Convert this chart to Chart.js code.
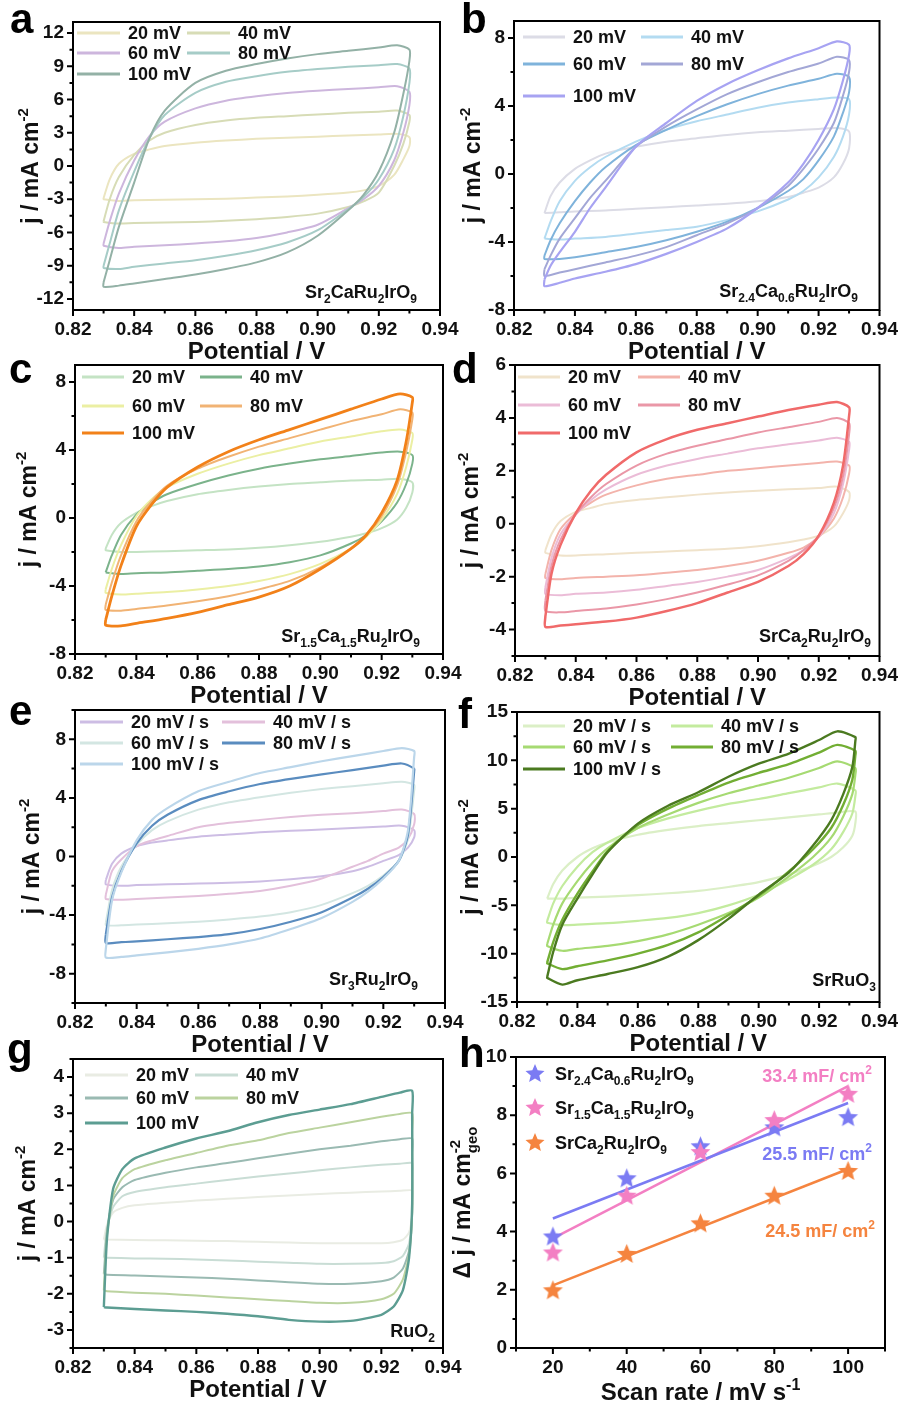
<!DOCTYPE html>
<html>
<head>
<meta charset="utf-8">
<script src="https://cdn.jsdelivr.net/npm/chart.js@4.4.1/dist/chart.umd.min.js"></script>
<style>
  body { margin: 0; background: #fff; }
  #wrap { position: relative; width: 906px; height: 1407px; overflow: hidden; }
  #wrap canvas { position: absolute; left: 0; top: 0; }
</style>
</head>
<body>
<div id="wrap">
  <canvas id="ca" width="906" height="1407"></canvas>
  <canvas id="cb" width="906" height="1407"></canvas>
  <canvas id="cc" width="906" height="1407"></canvas>
  <canvas id="cd" width="906" height="1407"></canvas>
  <canvas id="ce" width="906" height="1407"></canvas>
  <canvas id="cf" width="906" height="1407"></canvas>
  <canvas id="cg" width="906" height="1407"></canvas>
  <canvas id="ch" width="906" height="1407"></canvas>
</div>
<script>
/* ---------- data ---------- */

// potential grids (V): anodic sweep, then cathodic sweep back
const fwdE = [0.830, 0.832, 0.835, 0.840, 0.845, 0.850, 0.860, 0.870, 0.880, 0.890, 0.900, 0.910, 0.920, 0.926, 0.930];
const revE = [0.930, 0.928, 0.925, 0.920, 0.915, 0.910, 0.900, 0.890, 0.880, 0.870, 0.860, 0.850, 0.840, 0.835, 0.830];
const fwdE_f = [0.830, 0.832, 0.835, 0.840, 0.845, 0.850, 0.860, 0.870, 0.880, 0.890, 0.900, 0.910, 0.920, 0.926, 0.932];
const revE_f = [0.932, 0.931, 0.928, 0.924, 0.918, 0.910, 0.900, 0.890, 0.880, 0.870, 0.860, 0.850, 0.840, 0.835, 0.830];
const fwdE_g = [0.830, 0.831, 0.833, 0.836, 0.840, 0.850, 0.860, 0.870, 0.880, 0.890, 0.900, 0.910, 0.920, 0.926, 0.930];
const revE_g = [0.930, 0.930, 0.929, 0.927, 0.924, 0.920, 0.910, 0.900, 0.890, 0.880, 0.870, 0.860, 0.850, 0.840, 0.831];

const rateMV = ['20 mV', '40 mV', '60 mV', '80 mV', '100 mV'];
const rateMVs = ['20 mV / s', '40 mV / s', '60 mV / s', '80 mV / s', '100 mV / s'];

// current density (mA cm-2), one row per scan rate 20..100 mV/s
const aUp = [
  [-2.9, -1.2, 0.2, 1.1, 1.5, 1.8, 2.1, 2.3, 2.45, 2.55, 2.65, 2.75, 2.85, 2.9, 2.6],
  [-5.0, -3.0, -1.0, 1.0, 2.3, 3.0, 3.7, 4.1, 4.35, 4.5, 4.65, 4.8, 4.9, 5.0, 4.6],
  [-7.0, -5.0, -2.5, 0.5, 2.7, 4.0, 5.2, 5.9, 6.3, 6.6, 6.8, 6.95, 7.1, 7.2, 6.7],
  [-9.0, -7.0, -4.0, -0.5, 2.5, 4.6, 6.6, 7.6, 8.1, 8.5, 8.75, 8.95, 9.1, 9.2, 8.8],
  [-10.5, -8.5, -5.5, -1.5, 2.5, 5.0, 7.5, 8.6, 9.2, 9.7, 10.1, 10.4, 10.7, 10.9, 10.5]
];
const aDn = [
  [1.8, 0.6, -0.8, -1.8, -2.2, -2.4, -2.6, -2.75, -2.85, -2.95, -3.0, -3.05, -3.1, -3.15, -3.0],
  [4.0, 2.0, 0.0, -2.4, -3.2, -3.7, -4.3, -4.6, -4.8, -4.95, -5.05, -5.1, -5.15, -5.2, -5.05],
  [5.5, 3.0, 0.5, -1.8, -3.0, -3.8, -5.3, -6.0, -6.5, -6.8, -7.0, -7.15, -7.3, -7.4, -7.2],
  [7.5, 4.5, 1.5, -1.2, -2.8, -3.9, -5.8, -6.9, -7.6, -8.1, -8.5, -8.8, -9.1, -9.3, -9.2],
  [9.5, 6.5, 3.0, -0.5, -2.6, -4.0, -6.3, -7.8, -8.7, -9.3, -9.8, -10.2, -10.6, -10.8, -10.9]
];

const bUp = [
  [-2.3, -1.3, -0.5, 0.3, 0.8, 1.2, 1.6, 1.9, 2.1, 2.3, 2.45, 2.55, 2.65, 2.7, 2.5],
  [-3.8, -2.8, -1.6, -0.4, 0.4, 1.0, 1.9, 2.6, 3.1, 3.5, 3.9, 4.2, 4.4, 4.5, 4.4],
  [-4.8, -3.9, -2.9, -1.6, -0.5, 0.4, 1.7, 2.6, 3.4, 4.1, 4.7, 5.2, 5.6, 5.9, 5.7],
  [-5.6, -4.8, -3.8, -2.6, -1.4, -0.4, 1.6, 2.8, 3.8, 4.7, 5.4, 6.0, 6.5, 6.9, 6.7],
  [-6.2, -5.4, -4.6, -3.4, -2.0, -0.8, 1.6, 3.0, 4.3, 5.3, 6.1, 6.8, 7.4, 7.8, 7.6]
];
const bDn = [
  [1.5, 0.6, -0.2, -0.8, -1.1, -1.35, -1.6, -1.75, -1.85, -1.95, -2.05, -2.15, -2.2, -2.25, -2.3],
  [3.5, 2.2, 1.0, -0.2, -1.0, -1.5, -2.2, -2.7, -3.1, -3.3, -3.5, -3.7, -3.8, -3.85, -3.8],
  [4.8, 3.6, 2.2, 0.8, -0.3, -1.0, -2.0, -2.8, -3.4, -3.9, -4.3, -4.6, -4.9, -5.0, -5.0],
  [6.0, 4.6, 3.0, 1.5, 0.3, -0.7, -2.0, -2.9, -3.6, -4.3, -4.8, -5.2, -5.6, -5.8, -6.0],
  [7.0, 5.5, 3.8, 2.0, 0.6, -0.5, -2.0, -3.2, -4.0, -4.7, -5.3, -5.75, -6.15, -6.4, -6.6]
];

const cUp = [
  [-1.8, -1.0, -0.3, 0.3, 0.7, 1.0, 1.4, 1.65, 1.85, 2.0, 2.1, 2.2, 2.25, 2.3, 2.1],
  [-3.2, -2.2, -1.0, 0.2, 0.9, 1.4, 2.0, 2.5, 2.9, 3.2, 3.45, 3.65, 3.85, 3.9, 3.7],
  [-4.2, -3.0, -1.6, 0.1, 1.1, 1.8, 2.6, 3.2, 3.7, 4.1, 4.5, 4.8, 5.1, 5.2, 5.0],
  [-5.1, -3.8, -2.2, -0.2, 1.0, 1.9, 2.9, 3.6, 4.2, 4.7, 5.2, 5.7, 6.1, 6.4, 6.2],
  [-6.0, -4.6, -2.8, -0.5, 0.8, 1.8, 3.0, 3.9, 4.6, 5.2, 5.8, 6.4, 7.0, 7.3, 7.1]
];
const cDn = [
  [1.5, 0.6, -0.1, -0.6, -0.9, -1.1, -1.4, -1.6, -1.75, -1.85, -1.9, -1.95, -2.0, -2.0, -1.9],
  [3.2, 2.0, 0.9, -0.2, -1.0, -1.5, -2.2, -2.6, -2.85, -3.0, -3.1, -3.2, -3.25, -3.3, -3.2],
  [4.6, 3.0, 1.4, -0.1, -1.1, -1.8, -2.7, -3.3, -3.7, -4.0, -4.2, -4.35, -4.45, -4.5, -4.4],
  [5.8, 3.9, 1.9, 0.1, -1.0, -1.8, -2.9, -3.7, -4.2, -4.6, -4.9, -5.15, -5.35, -5.45, -5.4],
  [6.8, 4.5, 2.2, 0.3, -1.0, -1.8, -3.0, -4.0, -4.65, -5.1, -5.55, -5.9, -6.2, -6.35, -6.3]
];

const dUp = [
  [-1.0, -0.4, 0.1, 0.45, 0.6, 0.75, 0.9, 1.0, 1.1, 1.18, 1.25, 1.3, 1.35, 1.4, 1.2],
  [-1.9, -1.0, -0.2, 0.4, 0.8, 1.1, 1.45, 1.7, 1.85, 2.0, 2.1, 2.2, 2.3, 2.35, 2.2],
  [-2.4, -1.3, -0.4, 0.35, 0.9, 1.3, 1.85, 2.2, 2.45, 2.65, 2.85, 3.0, 3.15, 3.25, 3.1],
  [-2.9, -1.6, -0.6, 0.35, 1.0, 1.5, 2.2, 2.65, 2.95, 3.2, 3.45, 3.65, 3.85, 4.0, 3.8],
  [-3.5, -1.9, -0.8, 0.4, 1.25, 1.85, 2.7, 3.2, 3.55, 3.8, 4.05, 4.3, 4.5, 4.6, 4.4]
];
const dDn = [
  [0.9, 0.4, -0.1, -0.45, -0.6, -0.7, -0.85, -0.95, -1.0, -1.05, -1.1, -1.15, -1.2, -1.2, -1.1],
  [1.9, 1.0, 0.2, -0.5, -0.9, -1.1, -1.4, -1.6, -1.75, -1.85, -1.95, -2.0, -2.05, -2.1, -2.05],
  [2.8, 1.5, 0.4, -0.5, -1.0, -1.3, -1.75, -2.0, -2.2, -2.35, -2.5, -2.6, -2.65, -2.7, -2.65],
  [3.4, 1.8, 0.6, -0.45, -1.0, -1.4, -1.95, -2.3, -2.6, -2.85, -3.05, -3.2, -3.3, -3.35, -3.3],
  [4.1, 2.2, 0.8, -0.45, -1.15, -1.6, -2.2, -2.6, -3.0, -3.3, -3.55, -3.7, -3.8, -3.85, -3.9]
];

const eUp = [
  [-1.6, -0.5, 0.2, 0.7, 0.95, 1.1, 1.35, 1.5, 1.65, 1.75, 1.85, 1.95, 2.05, 2.1, 1.8],
  [-2.6, -1.0, -0.2, 0.7, 1.1, 1.4, 2.0, 2.3, 2.5, 2.7, 2.85, 2.95, 3.1, 3.2, 2.9],
  [-4.5, -2.3, -0.7, 0.8, 1.8, 2.4, 3.2, 3.7, 4.05, 4.35, 4.6, 4.8, 5.0, 5.1, 4.9],
  [-5.3, -2.8, -1.0, 0.9, 2.1, 2.85, 3.85, 4.45, 4.95, 5.3, 5.6, 5.9, 6.2, 6.35, 6.0],
  [-6.3, -3.0, -1.1, 1.1, 2.5, 3.3, 4.45, 5.1, 5.7, 6.1, 6.5, 6.85, 7.2, 7.4, 7.2]
];
const eDn = [
  [1.3, 0.6, 0.1, -0.3, -0.7, -1.0, -1.35, -1.55, -1.7, -1.8, -1.85, -1.9, -1.95, -2.0, -1.9],
  [2.2, 1.2, 0.6, 0.2, -0.3, -0.7, -1.5, -2.0, -2.35, -2.55, -2.7, -2.8, -2.9, -2.95, -2.9],
  [4.5, 1.2, -0.3, -1.3, -2.0, -2.5, -3.3, -3.8, -4.1, -4.3, -4.45, -4.55, -4.65, -4.7, -4.7],
  [5.8, 1.5, -0.3, -1.4, -2.2, -2.8, -3.8, -4.45, -4.95, -5.3, -5.5, -5.65, -5.8, -5.85, -5.9],
  [6.8, 1.8, -0.3, -1.5, -2.4, -3.1, -4.2, -4.95, -5.6, -6.0, -6.3, -6.55, -6.75, -6.85, -6.9]
];

const fUp = [
  [-4.3, -2.8, -1.4, 0.0, 0.9, 1.5, 2.3, 2.8, 3.2, 3.5, 3.8, 4.1, 4.4, 4.6, 4.7],
  [-6.6, -4.8, -3.0, -1.0, 0.5, 1.5, 3.0, 4.0, 4.8, 5.5, 6.0, 6.6, 7.2, 7.6, 6.9],
  [-9.0, -7.0, -4.8, -2.5, -0.6, 0.9, 3.0, 4.4, 5.6, 6.6, 7.4, 8.2, 9.2, 9.9, 9.2],
  [-10.9, -8.8, -6.5, -3.8, -1.5, 0.6, 3.3, 5.0, 6.4, 7.7, 8.7, 9.6, 10.8, 11.6, 11.0],
  [-12.4, -9.8, -7.0, -4.3, -1.8, 0.5, 3.45, 5.3, 6.7, 8.3, 9.65, 10.7, 12.1, 13.0, 12.4]
];
const fDn = [
  [3.5, 2.2, 1.0, 0.0, -0.9, -1.8, -2.6, -3.1, -3.5, -3.75, -3.95, -4.1, -4.2, -4.3, -4.3],
  [6.3, 4.5, 2.6, 0.8, -0.8, -2.3, -3.9, -5.0, -5.8, -6.3, -6.6, -6.85, -7.0, -7.05, -6.8],
  [8.5, 6.5, 4.2, 2.0, 0.0, -2.0, -4.2, -5.8, -7.0, -8.0, -8.7, -9.2, -9.5, -9.7, -9.2],
  [10.5, 8.0, 5.4, 3.0, 0.8, -1.5, -4.0, -6.0, -7.8, -9.1, -10.0, -10.7, -11.3, -11.6, -11.0],
  [12.0, 9.3, 6.5, 3.8, 1.2, -1.6, -3.9, -6.4, -8.6, -10.3, -11.4, -12.1, -12.75, -13.2, -12.5]
];

const gUp = [
  [-0.5, -0.1, 0.25, 0.38, 0.45, 0.52, 0.58, 0.63, 0.68, 0.72, 0.76, 0.8, 0.83, 0.85, 0.86],
  [-1.0, -0.2, 0.4, 0.7, 0.82, 0.95, 1.05, 1.15, 1.25, 1.33, 1.42, 1.5, 1.57, 1.6, 1.62],
  [-1.45, -0.3, 0.6, 0.95, 1.15, 1.35, 1.5, 1.62, 1.75, 1.88, 2.0, 2.1, 2.22, 2.28, 2.3],
  [-1.9, -0.4, 0.7, 1.2, 1.45, 1.7, 1.9, 2.1, 2.25, 2.45, 2.6, 2.75, 2.9, 2.98, 3.0],
  [-2.37, -0.5, 0.9, 1.45, 1.75, 2.05, 2.3, 2.5, 2.75, 2.95, 3.1, 3.25, 3.45, 3.57, 3.62]
];
const gDn = [
  [0.6, 0.2, -0.3, -0.5, -0.57, -0.6, -0.6, -0.6, -0.58, -0.56, -0.54, -0.53, -0.52, -0.51, -0.5],
  [1.3, 0.2, -0.6, -0.95, -1.1, -1.15, -1.17, -1.17, -1.14, -1.11, -1.08, -1.05, -1.03, -1.02, -1.0],
  [1.9, 0.2, -0.8, -1.3, -1.55, -1.65, -1.72, -1.72, -1.68, -1.63, -1.58, -1.55, -1.52, -1.49, -1.47],
  [2.5, 0.3, -0.9, -1.6, -2.0, -2.15, -2.25, -2.25, -2.2, -2.15, -2.1, -2.05, -2.0, -1.97, -1.93],
  [3.0, 0.5, -1.0, -1.9, -2.35, -2.58, -2.75, -2.77, -2.72, -2.62, -2.55, -2.5, -2.46, -2.42, -2.38]
];

// panel h: delta j vs scan rate
const hRates = [20, 40, 60, 80, 100];
const hSr24 = [3.85, 5.85, 6.95, 7.6, 7.95];
const hSr15 = [3.3, 5.25, 6.75, 7.85, 8.75];
const hSr1 = [2.0, 3.25, 4.3, 5.25, 6.1];
const fitRates = [20, 100];
const fitSr24 = [4.45, 8.42];
const fitSr15 = [3.77, 9.0];
const fitSr1 = [2.15, 6.15];
const hNames = ['Sr_{2.4}Ca_{0.6}Ru_{2}IrO_{9}', 'Sr_{1.5}Ca_{1.5}Ru_{2}IrO_{9}', 'SrCa_{2}Ru_{2}IrO_{9}'];
const hSlopes = ['25.5 mF/ cm^{2}', '33.4 mF/ cm^{2}', '24.5 mF/ cm^{2}'];

// tick labels
const xTicksCV = [0.82, 0.84, 0.86, 0.88, 0.90, 0.92, 0.94];
const aYTicks = [-12, -9, -6, -3, 0, 3, 6, 9, 12];
const bYTicks = [-8, -4, 0, 4, 8];
const cYTicks = [-8, -4, 0, 4, 8];
const dYTicks = [-4, -2, 0, 2, 4, 6];
const eYTicks = [-8, -4, 0, 4, 8];
const fYTicks = [-15, -10, -5, 0, 5, 10, 15];
const gYTicks = [-3, -2, -1, 0, 1, 2, 3, 4];
const hYTicks = [0, 2, 4, 6, 8, 10];
const hXTicks = [20, 40, 60, 80, 100];

/* ---------- helpers ---------- */

const FONT = '"Liberation Sans", Arial, sans-serif';
const W = 906, H = 1407;

function loop(fe, re, up, dn) {
  const pts = fe.map((x, i) => ({x: x, y: up[i]}));
  re.forEach((x, i) => pts.push({x: x, y: dn[i]}));
  pts.push(pts[0]);
  return pts;
}

function minors(ticks, min, max) {
  const out = [];
  const step = ticks[1] - ticks[0];
  for (let i = 0; i < ticks.length - 1; i++) out.push((ticks[i] + ticks[i + 1]) / 2);
  if (ticks[0] - step / 2 >= min - 1e-9) out.push(ticks[0] - step / 2);
  if (ticks[ticks.length - 1] + step / 2 <= max + 1e-9) out.push(ticks[ticks.length - 1] + step / 2);
  return out;
}

// "Sr_{2}Ca" -> subscripts, "cm^{-2}" -> superscripts
function richLayout(ctx, str, size) {
  const parts = [];
  const re = /([_^])\{([^}]*)\}/g;
  let last = 0, m;
  while ((m = re.exec(str)) !== null) {
    if (m.index > last) parts.push({t: str.slice(last, m.index), k: 'n'});
    parts.push({t: m[2], k: m[1]});
    last = re.lastIndex;
  }
  if (last < str.length) parts.push({t: str.slice(last), k: 'n'});
  let w = 0, sub = null;
  for (const p of parts) {
    p.fs = p.k === 'n' ? size : Math.round(size * 0.65);
    ctx.font = 'bold ' + p.fs + 'px ' + FONT;
    p.w = ctx.measureText(p.t).width;
    if (p.k === '^' && sub) {
      p.x = sub.x;
      w = Math.max(w, p.x + p.w);
      sub = null;
      continue;
    }
    p.x = w;
    w += p.w;
    sub = p.k === '_' ? p : null;
  }
  return {parts: parts, w: w};
}

function drawRich(ctx, str, x, y, size, color, align) {
  const lay = richLayout(ctx, str, size);
  const x0 = align === 'center' ? x - lay.w / 2 : align === 'right' ? x - lay.w : x;
  ctx.fillStyle = color;
  ctx.textAlign = 'left';
  ctx.textBaseline = 'alphabetic';
  for (const p of lay.parts) {
    ctx.font = 'bold ' + p.fs + 'px ' + FONT;
    const dy = p.k === '_' ? size * 0.3 : p.k === '^' ? -size * 0.42 : 0;
    ctx.fillText(p.t, x0 + p.x, y + dy);
  }
}

function starImage(color, r) {
  const c = document.createElement('canvas');
  c.width = c.height = Math.ceil(2 * r + 2);
  const g = c.getContext('2d');
  const cx = c.width / 2, cy = c.height / 2 + r * 0.1;
  g.beginPath();
  for (let i = 0; i < 10; i++) {
    const rr = i % 2 ? r * 0.45 : r;
    const a = -Math.PI / 2 + i * Math.PI / 5;
    g.lineTo(cx + rr * Math.cos(a), cy + rr * Math.sin(a));
  }
  g.closePath();
  g.fillStyle = color;
  g.fill();
  return c;
}

/* ---------- plugin: frame, ticks, legend, titles ---------- */

const decor = {
  id: 'decor',
  afterDraw(chart, args, o) {
    const ctx = chart.ctx, ca = chart.chartArea;
    const xs = chart.scales.x, ys = chart.scales.y;
    ctx.save();
    ctx.strokeStyle = '#000';
    ctx.lineWidth = 2;
    ctx.strokeRect(ca.left, ca.top, ca.right - ca.left, ca.bottom - ca.top);
    ctx.beginPath();
    o.xMajor.forEach(v => { const p = xs.getPixelForValue(v); ctx.moveTo(p, ca.bottom); ctx.lineTo(p, ca.bottom + 6); });
    o.xMinor.forEach(v => { const p = xs.getPixelForValue(v); ctx.moveTo(p, ca.bottom); ctx.lineTo(p, ca.bottom + 3.5); });
    o.yMajor.forEach(v => { const p = ys.getPixelForValue(v); ctx.moveTo(ca.left, p); ctx.lineTo(ca.left - 6, p); });
    o.yMinor.forEach(v => { const p = ys.getPixelForValue(v); ctx.moveTo(ca.left, p); ctx.lineTo(ca.left - 3.5, p); });
    ctx.stroke();

    // legend
    const lg = o.legend;
    lg.items.forEach((it, i) => {
      const row = lg.vertical ? i : Math.floor(i / 2);
      const col = lg.vertical ? 0 : i % 2;
      const x = col ? lg.c2 : lg.c1, y = lg.rows[row];
      if (it.star) {
        ctx.drawImage(it.star, x - it.star.width / 2, y - it.star.height / 2);
        drawRich(ctx, it.text, x + lg.gap, y + 7, lg.size, '#111', 'left');
        return;
      }
      ctx.strokeStyle = it.color;
      ctx.lineWidth = 3;
      ctx.beginPath();
      ctx.moveTo(x, y);
      ctx.lineTo(x + lg.len, y);
      ctx.stroke();
      drawRich(ctx, it.text, x + lg.len + 8, y + 6, lg.size, '#111', 'left');
    });

    // notes (compound name, slopes)
    (o.notes || []).forEach(n => drawRich(ctx, n.text, n.x, n.y, n.size, n.color || '#111', n.align || 'right'));

    // axis titles
    drawRich(ctx, o.xTitle, (ca.left + ca.right) / 2, ca.bottom + o.xTitleOff, 24, '#111', 'center');
    ctx.save();
    ctx.translate(ca.left - o.yTitleOff, (ca.top + ca.bottom) / 2);
    ctx.rotate(-Math.PI / 2);
    drawRich(ctx, o.yTitle, 0, 0, 23, '#111', 'center');
    ctx.restore();

    // panel letter
    ctx.font = 'bold 42px ' + FONT;
    ctx.fillStyle = '#000';
    ctx.textAlign = 'left';
    ctx.textBaseline = 'alphabetic';
    ctx.fillText(o.letter, o.letterPos[0], o.letterPos[1]);
    ctx.restore();
  }
};
Chart.register(decor);

function makeChart(id, box, xr, xTicks, xFmt, yr, yTicks, datasets, deco) {
  const tickFont = {family: FONT, size: 19, weight: 'bold'};
  deco.xMajor = xTicks;
  deco.xMinor = minors(xTicks, xr[0], xr[1]);
  deco.yMajor = yTicks;
  deco.yMinor = minors(yTicks, yr[0], yr[1]);
  return new Chart(document.getElementById(id), {
    type: 'scatter',
    data: {datasets: datasets},
    options: {
      responsive: false,
      devicePixelRatio: 1,
      animation: false,
      events: [],
      layout: {padding: {left: box.L - 60, top: box.T, right: W - box.R, bottom: H - box.B - 40}},
      plugins: {legend: {display: false}, tooltip: {enabled: false}, decor: deco},
      scales: {
        x: {
          type: 'linear', min: xr[0], max: xr[1],
          afterBuildTicks: s => { s.ticks = xTicks.map(v => ({value: v})); },
          afterFit: s => { s.height = 40; },
          grid: {display: false, drawTicks: false},
          border: {display: false},
          ticks: {padding: 8, color: '#111', font: tickFont, autoSkip: false, maxRotation: 0, callback: xFmt}
        },
        y: {
          type: 'linear', min: yr[0], max: yr[1],
          afterBuildTicks: s => { s.ticks = yTicks.map(v => ({value: v})); },
          afterFit: s => { s.width = 60; },
          grid: {display: false, drawTicks: false},
          border: {display: false},
          ticks: {padding: 9, color: '#111', font: tickFont, autoSkip: false, callback: v => String(v)}
        }
      }
    }
  });
}

/* ---------- CV panels a-g ---------- */

const cvPanels = [
  {id: 'ca', letter: 'a', letterPos: [10, 33], box: {L: 73, T: 22, R: 440, B: 310}, yr: [-13, 13], yTicks: aYTicks,
   fe: fwdE, re: revE, up: aUp, dn: aDn, tension: 0.25, labels: rateMV,
   colors: ['#ebe5c0', '#d7dcb6', '#cdb6dd', '#a6ccc7', '#93b1a6'], widths: [2, 2, 2, 2, 2],
   legend: {c1: 77, c2: 187, len: 43, rows: [33, 53, 74]},
   name: 'Sr_{2}CaRu_{2}IrO_{9}', namePos: [417, 298], yTitleOff: 35},
  {id: 'cb', letter: 'b', letterPos: [461, 33], box: {L: 514, T: 21, R: 881, B: 310}, yr: [-8, 9], yTicks: bYTicks,
   fe: fwdE, re: revE, up: bUp, dn: bDn, tension: 0.25, labels: rateMV,
   colors: ['#dcdce6', '#b3dbf1', '#7fb3db', '#a3a7d6', '#a7a3f2'], widths: [2, 2, 2, 2, 2.2],
   legend: {c1: 523, c2: 641, len: 42, rows: [37, 64, 96]},
   name: 'Sr_{2.4}Ca_{0.6}Ru_{2}IrO_{9}', namePos: [858, 297], yTitleOff: 34},
  {id: 'cc', letter: 'c', letterPos: [9, 383], box: {L: 75, T: 365, R: 443, B: 654}, yr: [-8, 9], yTicks: cYTicks,
   fe: fwdE, re: revE, up: cUp, dn: cDn, tension: 0.25, labels: rateMV,
   colors: ['#c4e3c4', '#7bb38b', '#ebefa3', '#f1b374', '#f28119'], widths: [2, 2, 2, 2, 2.8],
   legend: {c1: 82, c2: 200, len: 42, rows: [377, 406, 433]},
   name: 'Sr_{1.5}Ca_{1.5}Ru_{2}IrO_{9}', namePos: [420, 642], yTitleOff: 39},
  {id: 'cd', letter: 'd', letterPos: [452, 383], box: {L: 515, T: 365, R: 884, B: 656}, yr: [-5, 6], yTicks: dYTicks,
   fe: fwdE, re: revE, up: dUp, dn: dDn, tension: 0.25, labels: rateMV,
   colors: ['#f0e3cb', '#f3b3ab', '#ebbcd7', '#ea97a7', '#f06a6a'], widths: [2, 2, 2, 2, 2.5],
   legend: {c1: 518, c2: 638, len: 42, rows: [377, 405, 433]},
   name: 'SrCa_{2}Ru_{2}IrO_{9}', namePos: [871, 642], yTitleOff: 37},
  {id: 'ce', letter: 'e', letterPos: [9, 725], box: {L: 75, T: 710, R: 445, B: 1003}, yr: [-10, 10], yTicks: eYTicks,
   fe: fwdE, re: revE, up: eUp, dn: eDn, tension: 0.25, labels: rateMVs,
   colors: ['#cdbde4', '#e3c0db', '#d3e6e2', '#5a8cbf', '#bbd6ea'], widths: [2, 2, 2, 2.2, 2.2],
   legend: {c1: 80, c2: 222, len: 43, rows: [722, 743, 764]},
   name: 'Sr_{3}Ru_{2}IrO_{9}', namePos: [418, 985], yTitleOff: 36},
  {id: 'cf', letter: 'f', letterPos: [458, 728], box: {L: 517, T: 712, R: 885, B: 1002}, yr: [-15, 15], yTicks: fYTicks,
   fe: fwdE_f, re: revE_f, up: fUp, dn: fDn, tension: 0.25, labels: rateMVs,
   colors: ['#dbefc6', '#c3eb9e', '#a6da72', '#72ae33', '#4b7a20'], widths: [2.2, 2.2, 2.2, 2.4, 2.4],
   legend: {c1: 523, c2: 671, len: 42, rows: [726, 747, 769]},
   name: 'SrRuO_{3}', namePos: [876, 986], yTitleOff: 39},
  {id: 'cg', letter: 'g', letterPos: [7, 1063], box: {L: 73, T: 1059, R: 443, B: 1348}, yr: [-3.5, 4.5], yTicks: gYTicks,
   fe: fwdE_g, re: revE_g, up: gUp, dn: gDn, tension: 0.2, labels: rateMV,
   colors: ['#e9ece3', '#c9ddd5', '#9abab2', '#bbd39f', '#5c9d92'], widths: [2, 2, 2, 2, 2.4],
   legend: {c1: 85, c2: 195, len: 43, rows: [1075, 1098, 1123]},
   name: 'RuO_{2}', namePos: [435, 1337], yTitleOff: 38}
];

cvPanels.forEach(p => {
  const datasets = p.up.map((up, i) => ({
    label: p.labels[i],
    data: loop(p.fe, p.re, up, p.dn[i]),
    showLine: true,
    pointRadius: 0,
    borderColor: p.colors[i],
    borderWidth: p.widths[i],
    tension: p.tension,
    order: 10 - i
  }));
  const legend = Object.assign({size: 18}, p.legend);
  legend.items = p.labels.map((t, i) => ({text: t, color: p.colors[i]}));
  makeChart(p.id, p.box, [0.82, 0.94], xTicksCV, v => v.toFixed(2), p.yr, p.yTicks, datasets, {
    letter: p.letter, letterPos: p.letterPos, legend: legend,
    notes: [{text: p.name, x: p.namePos[0], y: p.namePos[1], size: 18}],
    xTitle: 'Potential / V', xTitleOff: 49,
    yTitle: 'j / mA cm^{-2}', yTitleOff: p.yTitleOff
  });
});

/* ---------- panel h ---------- */

const hColors = ['#7b7bf3', '#f37fc3', '#f5843f'];
const hStars = hColors.map(c => starImage(c, 10.5));
const hLegendStars = hColors.map(c => starImage(c, 10));
const hSeries = [hSr24, hSr15, hSr1];
const hFits = [fitSr24, fitSr15, fitSr1];

const hDatasets = [];
hSeries.forEach((s, i) => {
  hDatasets.push({
    label: hNames[i],
    data: hRates.map((r, k) => ({x: r, y: s[k]})),
    pointStyle: hStars[i],
    pointRadius: 10,
    showLine: false,
    order: 3 - i
  });
  hDatasets.push({
    label: hNames[i] + ' fit',
    data: fitRates.map((r, k) => ({x: r, y: hFits[i][k]})),
    showLine: true,
    pointRadius: 0,
    borderColor: hColors[i],
    borderWidth: 2.5,
    order: 10 + i
  });
});

makeChart('ch', {L: 516, T: 1057, R: 885, B: 1348}, [10, 110], hXTicks, v => String(v), [0, 10], hYTicks, hDatasets, {
  letter: 'h', letterPos: [459, 1067],
  legend: {
    vertical: true, c1: 535, c2: 535, gap: 20, size: 18, rows: [1073, 1107, 1142],
    items: hNames.map((t, i) => ({text: t, star: hLegendStars[i]}))
  },
  notes: [
    {text: hSlopes[1], x: 872, y: 1082, size: 18, color: hColors[1]},
    {text: hSlopes[0], x: 872, y: 1160, size: 18, color: hColors[0]},
    {text: hSlopes[2], x: 875, y: 1237, size: 18, color: hColors[2]}
  ],
  xTitle: 'Scan rate / mV s^{-1}', xTitleOff: 52,
  yTitle: '\u0394 j / mA cm_{geo}^{-2}', yTitleOff: 46
});
</script>
</body>
</html>
